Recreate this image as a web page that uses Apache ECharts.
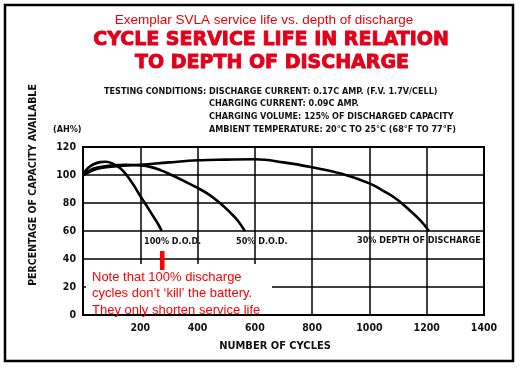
<!DOCTYPE html>
<html>
<head>
<meta charset="utf-8">
<script src="https://cdn.jsdelivr.net/npm/echarts@6/dist/echarts.min.js"></script>
<style>html,body{margin:0;padding:0;background:#fff;}#c{width:524px;height:368px;}</style>
</head>
<body>
<div id="c"></div>
<script>
// Data: [cycles, % capacity]
var dod100 = [[0,100],[15,104.5],[35,107.5],[60,109.2],[80,109.5],[100,108.5],[130,104.8],[152,100],[176,93],[200,85],[216,80],[245,70.5],[262,65],[275,60]];
var dod50 = [[0,100],[20,103],[50,105.3],[100,106.8],[150,107.3],[200,106.8],[235,105.8],[270,103.5],[309,100],[350,96],[400,90.8],[440,86],[478,80],[510,74],[540,67.5],[565,60]];
var dod30 = [[0,100],[50,104.5],[100,106],[200,107.3],[300,109],[400,110.5],[500,111],[600,111.2],[700,109],[800,105.5],[900,101],[1000,94],[1050,88.5],[1100,82],[1150,73],[1180,67],[1208,60]];
var xTicks = [0,200,400,600,800,1000,1200,1400];
var yTicks = [0,20,40,60,80,100,120];
var curveLabels = ['100% D.O.D.','50% D.O.D.','30% DEPTH OF DISCHARGE'];
var subtitle = 'Exemplar SVLA service life vs. depth of discharge';
var titleLines = ['CYCLE SERVICE LIFE IN RELATION','TO DEPTH OF DISCHARGE'];
var conditions = ['TESTING CONDITIONS: DISCHARGE CURRENT: 0.17C AMP. (F.V. 1.7V/CELL)','CHARGING CURRENT: 0.09C AMP.','CHARGING VOLUME: 125% OF DISCHARGED CAPACITY','AMBIENT TEMPERATURE: 20\u00B0C TO 25\u00B0C (68\u00B0F TO 77\u00B0F)'];
var noteLines = ['Note that 100% discharge','cycles don\u2019t \u2018kill\u2019 the battery.','They only shorten service life'];
var xTitle = 'NUMBER OF CYCLES';
var yTitle = 'PERCENTAGE OF CAPACITY AVAILABLE';

var NAR = "'Liberation Sans Narrow','DejaVu Sans Condensed','Arial Narrow',sans-serif";
var chart = echarts.init(document.getElementById('c'), null, {renderer:'canvas'});
function lineSeries(d){
  return {type:'line', data:d, smooth:0.4, showSymbol:false, symbol:'none', silent:true,
    lineStyle:{color:'#000', width:2.6}, z:5};
}
var condStyle = {fill:'#111', font:'bold 9px '+NAR};
var redFont = '13px "Liberation Sans",Arial,sans-serif';
var titleStyle = {fill:'#e2001a', stroke:'#e2001a', lineWidth:0.9, font:'bold 19px "DejaVu Sans",sans-serif', align:'center', verticalAlign:'middle'};
chart.setOption({
  animation:false,
  backgroundColor:'#fff',
  grid:{left:83, right:40, top:147, bottom:53, show:true, borderColor:'#000', borderWidth:2, backgroundColor:'transparent'},
  xAxis:{type:'value', min:xTicks[0], max:xTicks[xTicks.length-1], interval:200,
    axisLine:{show:false}, axisTick:{show:false},
    splitLine:{show:true, lineStyle:{color:'#000', width:1.5}},
    axisLabel:{margin:8, color:'#111', fontFamily:NAR, fontWeight:'bold', fontSize:10.5,
      formatter:function(v){return v===0?'':String(v);}}},
  yAxis:{type:'value', min:yTicks[0], max:yTicks[yTicks.length-1], interval:20,
    axisLine:{show:false}, axisTick:{show:false},
    splitLine:{show:true, lineStyle:{color:'#000', width:1.5}},
    axisLabel:{margin:7, color:'#111', fontFamily:NAR, fontWeight:'bold', fontSize:10.5}},
  series:[lineSeries(dod100), lineSeries(dod50), lineSeries(dod30)],
  graphic:[
    {type:'rect', shape:{x:5, y:5, width:508, height:356}, style:{fill:'none', stroke:'#000', lineWidth:2.5}, z:100},
    {type:'text', x:264, y:20, style:{text:subtitle, fill:'#e8000b', font:'13.5px "Liberation Sans",Arial,sans-serif', align:'center', verticalAlign:'middle'}},
    {type:'text', x:271, y:40, style:Object.assign({text:titleLines[0]}, titleStyle)},
    {type:'text', x:272, y:63, style:Object.assign({text:titleLines[1]}, titleStyle)},
    {type:'text', x:104, y:92, style:Object.assign({text:conditions[0], verticalAlign:'middle'}, condStyle)},
    {type:'text', x:209, y:104, style:Object.assign({text:conditions[1], verticalAlign:'middle'}, condStyle)},
    {type:'text', x:209, y:117, style:Object.assign({text:conditions[2], verticalAlign:'middle'}, condStyle)},
    {type:'text', x:209, y:130, style:Object.assign({text:conditions[3], verticalAlign:'middle'}, condStyle)},
    {type:'text', x:53, y:130, style:Object.assign({text:'(AH%)', verticalAlign:'middle'}, condStyle)},
    {type:'text', x:275, y:346, style:{text:xTitle, fill:'#111', font:'bold 11px '+NAR, align:'center', verticalAlign:'middle'}},
    {type:'text', x:33, y:185, rotation:Math.PI/2, style:{text:yTitle, fill:'#111', font:'bold 10.5px '+NAR, align:'center', verticalAlign:'middle'}},
    {type:'text', x:144, y:242, style:{text:curveLabels[0], fill:'#111', font:'bold 9px '+NAR, verticalAlign:'middle'}, z:11},
    {type:'text', x:236, y:242, style:{text:curveLabels[1], fill:'#111', font:'bold 9px '+NAR, verticalAlign:'middle'}, z:11},
    {type:'text', x:357, y:241, style:{text:curveLabels[2], fill:'#111', font:'bold 9px '+NAR, verticalAlign:'middle'}, z:11},
    {type:'rect', shape:{x:160, y:251, width:4.5, height:19}, style:{fill:'#f00'}, z:12},
    {type:'rect', shape:{x:86, y:264, width:186, height:50}, style:{fill:'#fff'}, z:10},
    {type:'text', x:92, y:277, style:{text:noteLines[0], fill:'#f00', font:redFont, verticalAlign:'middle'}, z:11},
    {type:'text', x:92, y:293.5, style:{text:noteLines[1], fill:'#f00', font:redFont, verticalAlign:'middle'}, z:11},
    {type:'text', x:92, y:310, style:{text:noteLines[2], fill:'#f00', font:redFont, verticalAlign:'middle'}, z:11}
  ]
});
</script>
</body>
</html>
